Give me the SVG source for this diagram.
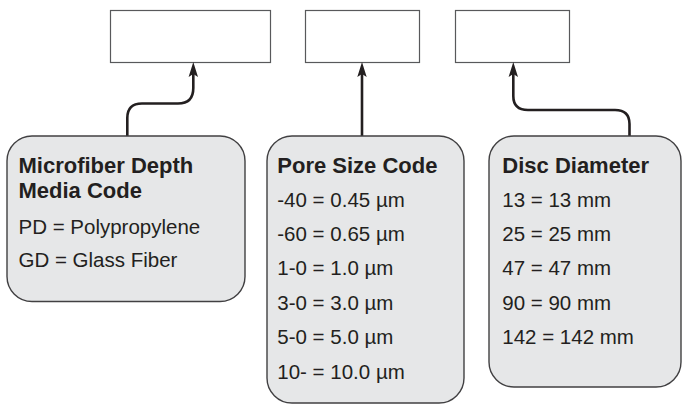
<svg xmlns="http://www.w3.org/2000/svg" width="683" height="406" viewBox="0 0 683 406">
<style>
.top{fill:#fff;stroke:#58595b;stroke-width:1.2}
.card{fill:#e6e7e8;stroke:#414042;stroke-width:1.4}
.conn{fill:none;stroke:#231f20;stroke-width:2.6}
.head{fill:#231f20}
text{font-family:"Liberation Sans",Arial,sans-serif;fill:#231f20}
.h{font-weight:bold;font-size:22px}
.t{font-size:20.5px}
</style>
<rect width="683" height="406" fill="#fff"/>
<g id="box-media"><rect class="top" x="110.5" y="10.5" width="160" height="52"/></g>
<g id="box-pore"><rect class="top" x="305.5" y="10.5" width="114" height="52"/></g>
<g id="box-disc"><rect class="top" x="455.5" y="10.5" width="114" height="52"/></g>
<g id="connectors">
<path class="conn" d="M127.3,136 V118 Q127.3,103.5 142,103.5 H178 Q193.3,103.5 193.3,88 V72"/>
<path class="head" d="M193.3,62 L198,77 L193.3,74 L188.6,77 Z"/>
<path class="conn" d="M362,136 V72"/>
<path class="head" d="M362,62 L366.7,77 L362,74 L357.3,77 Z"/>
<path class="conn" d="M629.5,136 V124 Q629.5,110 615,110 H528 Q513.3,110 513.3,96 V72"/>
<path class="head" d="M513.3,62 L518,77 L513.3,74 L508.6,77 Z"/>
</g>
<g id="card-media">
<rect class="card" x="7" y="136" width="238" height="165.5" rx="25" ry="25"/>
<text class="h" x="18.5" y="172.7">Microfiber Depth</text>
<text class="h" x="18.5" y="198.3">Media Code</text>
<text class="t" x="18.5" y="234">PD = Polypropylene</text>
<text class="t" x="18.5" y="266.7">GD = Glass Fiber</text>
</g>
<g id="card-pore">
<rect class="card" x="267" y="136" width="197" height="267" rx="25" ry="25"/>
<text class="h" x="277.3" y="172.7">Pore Size Code</text>
<text class="t" x="277.3" y="206.7">-40 = 0.45 µm</text>
<text class="t" x="277.3" y="241">-60 = 0.65 µm</text>
<text class="t" x="277.3" y="275.3">1-0 = 1.0 µm</text>
<text class="t" x="277.3" y="309.6">3-0 = 3.0 µm</text>
<text class="t" x="277.3" y="344">5-0 = 5.0 µm</text>
<text class="t" x="277.3" y="378.5">10- = 10.0 µm</text>
</g>
<g id="card-disc">
<rect class="card" x="489" y="136" width="192" height="251" rx="25" ry="25"/>
<text class="h" x="502.3" y="172.7">Disc Diameter</text>
<text class="t" x="502.3" y="206.7">13 = 13 mm</text>
<text class="t" x="502.3" y="241">25 = 25 mm</text>
<text class="t" x="502.3" y="275.3">47 = 47 mm</text>
<text class="t" x="502.3" y="309.6">90 = 90 mm</text>
<text class="t" x="502.3" y="344">142 = 142 mm</text>
</g>
</svg>
